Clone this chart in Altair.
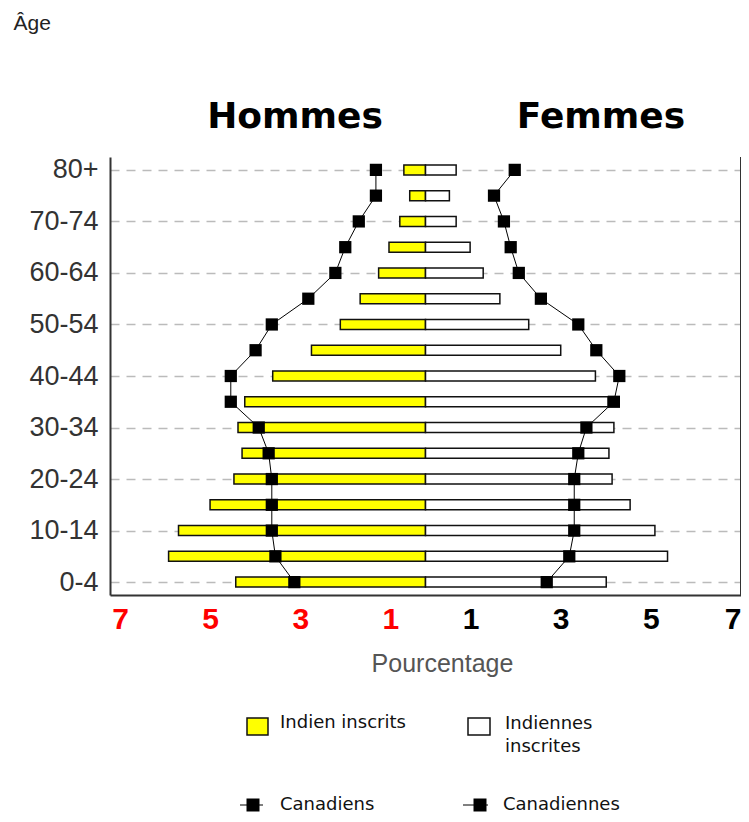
import altair as alt
import pandas as pd

ages = ["0-4", "5-9", "10-14", "15-19", "20-24", "25-29", "30-34", "35-39",
        "40-44", "45-49", "50-54", "55-59", "60-64", "65-69", "70-74", "75-79", "80+"]
indian_men = [4.21, 5.70, 5.48, 4.78, 4.25, 4.07, 4.16, 4.01,
              3.39, 2.53, 1.89, 1.45, 1.04, 0.81, 0.57, 0.35, 0.48]
indian_women = [4.01, 5.37, 5.09, 4.54, 4.14, 4.07, 4.18, 4.05,
                3.77, 3.00, 2.29, 1.65, 1.28, 0.99, 0.68, 0.53, 0.68]
canada_men = [2.91, 3.33, 3.41, 3.41, 3.41, 3.48, 3.70, 4.32,
              4.32, 3.77, 3.41, 2.60, 2.00, 1.78, 1.48, 1.10, 1.10]
canada_women = [2.69, 3.19, 3.30, 3.30, 3.30, 3.39, 3.57, 4.18,
                4.30, 3.79, 3.39, 2.56, 2.07, 1.89, 1.74, 1.52, 1.98]
sexes = ["Hommes", "Femmes"]
series = ["Indien inscrits", "Indiennes\ninscrites", "Canadiens", "Canadiennes"]
x_ticks = [-7, -5, -3, -1, 1, 3, 5, 7]

W, H = 631, 438
FONT = "Liberation Sans"

rows = []
for i, a in enumerate(ages):
    rows.append(dict(age=a, idx=i, sex=sexes[0], indian=-indian_men[i], canada=-canada_men[i]))
    rows.append(dict(age=a, idx=i, sex=sexes[1], indian=indian_women[i], canada=canada_women[i]))
df = pd.DataFrame(rows)

order = list(reversed(ages))
labeled = ages[::2]

xscale = alt.Scale(domain=[-7, 7], nice=False, zero=True)
yscale = alt.Scale(type="point", padding=0.5)

y_axis = alt.Axis(values=labeled, title="Âge", titleAngle=0, titleX=-97, titleY=-128,
                  titleAlign="left", titleBaseline="alphabetic", titleFont=FONT,
                  titleFontSize=21, titleFontWeight="normal", titleColor="#222",
                  labelFont=FONT, labelFontSize=27, labelColor="#333", labelPadding=12,
                  ticks=False, domainColor="#333", domainWidth=2,
                  grid=True, gridColor="#bbbbbb", gridDash=[9, 7], gridWidth=1.5)

x_axis = alt.Axis(values=x_ticks, labelExpr="abs(datum.value)",
                  labelColor={"condition": {"test": "datum.value < 0", "value": "#ff0000"}, "value": "#000000"},
                  labelOffset={"condition": {"test": "datum.value < 0", "value": 10}, "value": 0},
                  labelAlign={"condition": {"test": "datum.value >= 7", "value": "right"}, "value": "center"},
                  labelFont=FONT, labelFontSize=30, labelFontWeight="bold", labelPadding=9,
                  labelOverlap=False, labelFlush=False,
                  ticks=False, domainColor="#333", domainWidth=2, grid=False,
                  title="Pourcentage", titleX=332, titleY=68, titleBaseline="middle",
                  titleAlign="center", titleFont=FONT, titleFontSize=25,
                  titleFontWeight="normal", titleColor="#555")

base = alt.Chart(df)

X_ind = alt.X("indian:Q", scale=xscale, axis=x_axis)
X_can = alt.X("canada:Q", scale=xscale, axis=x_axis)
Y_age = alt.Y("age:N", sort=order, scale=yscale, axis=y_axis)

bars = base.mark_bar(size=10, stroke="#111", strokeWidth=1.5).encode(
    x=X_ind, y=Y_age,
    color=alt.Color("sex:N", scale=alt.Scale(domain=sexes, range=["#ffff00", "#ffffff"]), legend=None),
)

line = base.mark_line(color="#000", strokeWidth=1).encode(
    x=X_can, y=Y_age, detail="sex:N", order=alt.Order("idx:Q"),
)

pts = base.mark_square(color="#000", opacity=1, size=150).encode(x=X_can, y=Y_age)

frame = alt.Chart(pd.DataFrame({"a": [0]})).mark_rule(color="#333", strokeWidth=2).encode(
    x=alt.value(W), y=alt.value(0), y2=alt.value(H))

def label(text, x, y, size, weight="normal", font=FONT, color="#000", align="left", baseline="middle", lb=None):
    kw = dict(align=align, baseline=baseline, font=font, fontSize=size, fontWeight=weight, color=color)
    if lb:
        kw["lineBreak"] = lb
        kw["lineHeight"] = 23
    return alt.Chart(pd.DataFrame({"label": [text]})).mark_text(**kw).encode(
        x=alt.value(x), y=alt.value(y), text="label:N")

t_h = label(sexes[0], 185, -29, 36, "bold", "DejaVu Sans", align="center", baseline="alphabetic")
t_f = label(sexes[1], 491, -29, 36, "bold", "DejaVu Sans", align="center", baseline="alphabetic")

leg_font = "DejaVu Sans"
LS = 18
sw_y = alt.Chart(pd.DataFrame({"a": [0]})).mark_rect(fill="#ffff00", stroke="#111", strokeWidth=1.5).encode(
    x=alt.value(137), x2=alt.value(158), y=alt.value(561), y2=alt.value(578))
sw_w = alt.Chart(pd.DataFrame({"a": [0]})).mark_rect(fill="#ffffff", stroke="#111", strokeWidth=1.5).encode(
    x=alt.value(358), x2=alt.value(380), y=alt.value(561), y2=alt.value(578))
l1 = label(series[0], 170, 566, LS, font=leg_font, color="#111")
l2 = label(series[1], 395, 567, LS, font=leg_font, color="#111", lb="\n")

RY = 648
r1 = alt.Chart(pd.DataFrame({"a": [0]})).mark_rule(color="#000", strokeWidth=1).encode(
    x=alt.value(130), x2=alt.value(153), y=alt.value(RY))
s1 = alt.Chart(pd.DataFrame({"a": [0]})).mark_square(color="#000", opacity=1, size=169).encode(
    x=alt.value(143), y=alt.value(RY))
r2 = alt.Chart(pd.DataFrame({"a": [0]})).mark_rule(color="#000", strokeWidth=1).encode(
    x=alt.value(353), x2=alt.value(378), y=alt.value(RY))
s2 = alt.Chart(pd.DataFrame({"a": [0]})).mark_square(color="#000", opacity=1, size=169).encode(
    x=alt.value(370), y=alt.value(RY))
l3 = label(series[2], 170, RY, LS, font=leg_font, color="#111")
l4 = label(series[3], 393, RY, LS, font=leg_font, color="#111")

chart = alt.layer(
    bars, line, pts, frame, t_h, t_f, sw_y, sw_w, l1, l2, r1, s1, r2, s2, l3, l4
).properties(
    width=W, height=H,
    autosize=alt.AutoSizeParams(type="none"),
    padding={"left": 102, "top": 149, "right": 0, "bottom": 219},
).configure_view(strokeWidth=0)

chart.save("out.html", embed_options={"renderer": "svg", "actions": False})
